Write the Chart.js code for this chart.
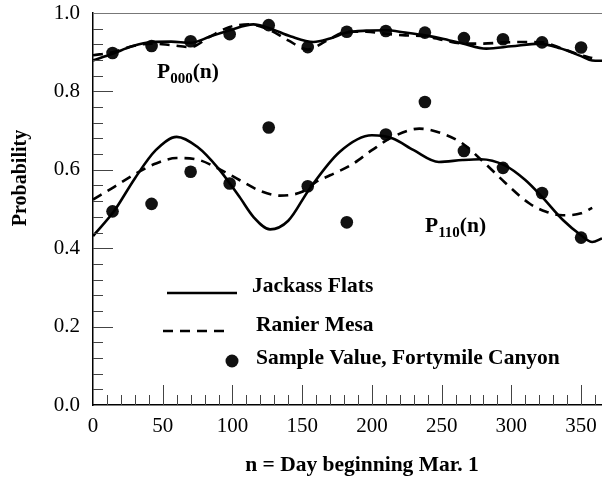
<!DOCTYPE html>
<html>
<head>
<meta charset="utf-8">
<script src="https://cdn.jsdelivr.net/npm/chart.js@4/dist/chart.umd.min.js"></script>
<style>
    body { margin: 0; background: #fff; }
    #wrap { width: 602px; height: 490px; }
</style>
</head>
<body>
<div id="wrap"><canvas id="myChart" width="602" height="490"></canvas></div>
<script>
// sample values (Fortymile Canyon)
const sampleDays = [14, 42, 70, 98, 126, 154, 182, 210, 238, 266, 294, 322, 350]
const sampleP000 = [0.898, 0.916, 0.928, 0.946, 0.969, 0.913, 0.952, 0.954, 0.950, 0.936, 0.933, 0.925, 0.912]
const sampleP110 = [0.494, 0.513, 0.595, 0.565, 0.708, 0.558, 0.466, 0.690, 0.773, 0.648, 0.605, 0.541, 0.427]

// Jackass Flats (solid)
const jackDaysLow = [0, 15, 30, 45, 60, 75, 90, 105, 115, 127, 140, 155, 177, 200, 215, 230, 248, 265, 278, 295, 310, 322, 337, 350, 358, 365]
const jackP110 = [0.431, 0.494, 0.578, 0.650, 0.684, 0.658, 0.603, 0.531, 0.480, 0.448, 0.470, 0.550, 0.646, 0.688, 0.680, 0.650, 0.620, 0.625, 0.627, 0.612, 0.574, 0.531, 0.472, 0.433, 0.416, 0.425]
const jackDaysUp = [0, 14, 28, 42, 56, 70, 84, 98, 115, 126, 142, 158, 170, 182, 196, 210, 224, 238, 250, 265, 282, 300, 320, 335, 350, 358, 365]
const jackP000 = [0.879, 0.896, 0.915, 0.926, 0.927, 0.924, 0.940, 0.956, 0.971, 0.962, 0.940, 0.926, 0.935, 0.950, 0.955, 0.956, 0.950, 0.943, 0.935, 0.922, 0.909, 0.915, 0.922, 0.910, 0.890, 0.879, 0.878]

// Ranier Mesa (dashed)
const ranDaysLow = [0, 15, 30, 45, 60, 75, 90, 105, 120, 134, 150, 160, 170, 185, 200, 215, 234, 250, 265, 280, 295, 313, 325, 337, 350, 358]
const ranP110 = [0.524, 0.556, 0.589, 0.616, 0.630, 0.626, 0.603, 0.574, 0.546, 0.534, 0.544, 0.569, 0.586, 0.612, 0.650, 0.684, 0.705, 0.693, 0.667, 0.620, 0.569, 0.514, 0.493, 0.484, 0.489, 0.503]
const ranDaysUp = [0, 14, 28, 42, 56, 70, 84, 98, 112, 126, 140, 154, 168, 182, 196, 210, 224, 238, 252, 266, 280, 294, 308, 322, 336, 350, 358]
const ranP000 = [0.892, 0.900, 0.915, 0.922, 0.918, 0.913, 0.940, 0.964, 0.971, 0.958, 0.930, 0.907, 0.930, 0.952, 0.952, 0.947, 0.943, 0.941, 0.930, 0.922, 0.922, 0.925, 0.926, 0.925, 0.910, 0.892, 0.885]

const xTicks = [0, 50, 100, 150, 200, 250, 300, 350]
const yTicks = [0.0, 0.2, 0.4, 0.6, 0.8, 1.0]

const pts = (xs, ys) => xs.map((x, i) => ({ x: x, y: ys[i] }))
const serif = '"Liberation Serif", "Times New Roman", serif'

function lineSet(xs, ys, dashed) {
    return {
        data: pts(xs, ys),
        borderColor: '#000',
        borderWidth: 2.6,
        borderDash: dashed ? [10, 7] : [],
        pointRadius: 0,
        cubicInterpolationMode: 'monotone',
        fill: false
    }
}

const decor = {
    id: 'decor',
    afterDraw(chart) {
        const c = chart.ctx
        const xs = chart.scales.x
        const ys = chart.scales.y
        const a = chart.chartArea
        c.save()
        // top frame
        c.strokeStyle = '#777'
        c.lineWidth = 1
        c.beginPath()
        c.moveTo(a.left, a.top + 0.5)
        c.lineTo(a.right, a.top + 0.5)
        c.stroke()
        // tick marks
        c.strokeStyle = '#444'
        c.lineWidth = 1
        c.beginPath()
        for (let v = 0.04; v < 1; v += 0.04) {
            const y = Math.round(ys.getPixelForValue(v)) + 0.5
            const major = Math.abs(v * 5 - Math.round(v * 5)) < 1e-6
            c.moveTo(a.left, y)
            c.lineTo(a.left + (major ? 20 : 10), y)
        }
        for (let v = 10; v <= 360; v += 10) {
            const x = Math.round(xs.getPixelForValue(v)) + 0.5
            const major = v % 50 == 0
            c.moveTo(x, a.bottom)
            c.lineTo(x, a.bottom - (major ? 20 : 10))
        }
        c.stroke()

        // axis titles
        c.fillStyle = '#000'
        c.font = 'bold 21.5px ' + serif
        c.textAlign = 'center'
        c.textBaseline = 'middle'
        c.fillText('n = Day beginning Mar. 1', 362, 465)
        c.save()
        c.translate(21, 178)
        c.rotate(-Math.PI / 2)
        c.font = 'bold 20px ' + serif
        c.fillText('Probability', 0, 0)
        c.restore()

        // curve labels
        c.textAlign = 'left'
        c.textBaseline = 'alphabetic'
        const pLabel = (x, y, sub) => {
            c.font = 'bold 21.5px ' + serif
            c.fillText('P', x, y)
            let w = c.measureText('P').width
            c.font = 'bold 15px ' + serif
            c.fillText(sub, x + w, y + 5)
            w += c.measureText(sub).width
            c.font = 'bold 21.5px ' + serif
            c.fillText('(n)', x + w, y)
        }
        pLabel(157, 78, '000')
        pLabel(425, 232, '110')

        // legend
        c.lineWidth = 2.6
        c.strokeStyle = '#000'
        c.beginPath()
        c.moveTo(167, 293)
        c.lineTo(237, 293)
        c.stroke()
        c.setLineDash([10, 7])
        c.beginPath()
        c.moveTo(163, 331)
        c.lineTo(228, 331)
        c.stroke()
        c.setLineDash([])
        c.fillStyle = '#111'
        c.beginPath()
        c.arc(232, 361, 6.5, 0, Math.PI * 2)
        c.fill()
        c.fillStyle = '#000'
        c.font = 'bold 21.5px ' + serif
        c.textBaseline = 'middle'
        c.fillText('Jackass Flats', 252, 286)
        c.fillText('Ranier Mesa', 256, 325)
        c.fillText('Sample Value, Fortymile Canyon', 256, 358)
        c.restore()
    }
}

const ctx = document.getElementById('myChart').getContext('2d')
const myChart = new Chart(ctx, {
    type: 'line',
    data: {
        datasets: [
            lineSet(jackDaysUp, jackP000, false),
            lineSet(jackDaysLow, jackP110, false),
            lineSet(ranDaysUp, ranP000, true),
            lineSet(ranDaysLow, ranP110, true),
            {
                data: pts(sampleDays, sampleP000).concat(pts(sampleDays, sampleP110)),
                showLine: false,
                pointRadius: 6.3,
                pointBackgroundColor: '#111',
                pointBorderWidth: 0
            }
        ]
    },
    options: {
        responsive: false,
        animation: false,
        layout: { autoPadding: false, padding: { top: 13, right: 0, left: 0, bottom: 0 } },
        plugins: { legend: { display: false }, tooltip: { enabled: false } },
        scales: {
            x: {
                type: 'linear',
                min: 0,
                max: 365,
                afterFit: (s) => { s.height = 85; s.paddingRight = 0; s.paddingLeft = 0 },
                afterBuildTicks: (s) => { s.ticks = xTicks.map(v => ({ value: v })) },
                grid: { display: false, drawTicks: false },
                border: { display: true, color: '#000', width: 1.5 },
                ticks: {
                    padding: 9,
                    color: '#000',
                    font: { family: serif, size: 21 },
                    maxRotation: 0,
                    callback: (v) => v
                }
            },
            y: {
                min: 0,
                max: 1,
                afterFit: (s) => { s.width = 93; s.paddingTop = 0; s.paddingBottom = 0 },
                afterBuildTicks: (s) => { s.ticks = yTicks.map(v => ({ value: v })) },
                grid: { display: false, drawTicks: false },
                border: { display: true, color: '#000', width: 1.5 },
                ticks: {
                    padding: 13,
                    color: '#000',
                    font: { family: serif, size: 21 },
                    callback: (v) => Number(v).toFixed(1)
                }
            }
        }
    },
    plugins: [decor]
})
</script>
</body>
</html>
